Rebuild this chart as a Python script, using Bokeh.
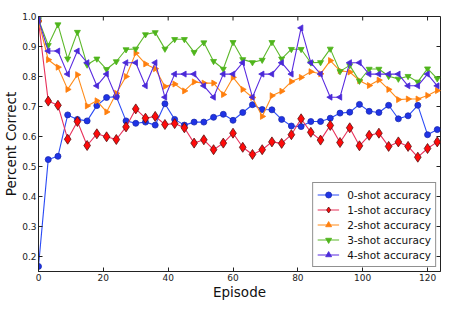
from bokeh.plotting import figure
from bokeh.models import Range1d, FixedTicker, Legend, LegendItem
from bokeh.embed import file_html
from bokeh.resources import INLINE
import math

episodes = [0, 3, 6, 9, 12, 15, 18, 21, 24, 27, 30, 33, 36, 39, 42, 45, 48, 51, 54, 57, 60,
            63, 66, 69, 72, 75, 78, 81, 84, 87, 90, 93, 96, 99, 102, 105, 108, 111, 114, 117, 120, 123]

acc0 = [0.167, 0.523, 0.534, 0.672, 0.657, 0.652, 0.703, 0.730, 0.733, 0.652, 0.644, 0.648, 0.638, 0.709,
        0.657, 0.638, 0.648, 0.648, 0.664, 0.674, 0.654, 0.680, 0.706, 0.690, 0.689, 0.657, 0.635, 0.633,
        0.650, 0.650, 0.661, 0.678, 0.681, 0.707, 0.684, 0.680, 0.704, 0.659, 0.669, 0.704, 0.606, 0.623]
acc1 = [0.985, 0.718, 0.704, 0.591, 0.650, 0.570, 0.609, 0.599, 0.590, 0.632, 0.692, 0.661, 0.667, 0.640,
        0.643, 0.629, 0.578, 0.589, 0.556, 0.578, 0.611, 0.564, 0.540, 0.556, 0.582, 0.577, 0.606, 0.659,
        0.614, 0.588, 0.637, 0.580, 0.629, 0.569, 0.604, 0.611, 0.567, 0.582, 0.567, 0.531, 0.560, 0.582]
acc2 = [0.985, 0.856, 0.831, 0.757, 0.806, 0.702, 0.719, 0.682, 0.744, 0.800, 0.878, 0.842, 0.826, 0.767,
        0.775, 0.752, 0.782, 0.778, 0.778, 0.740, 0.797, 0.757, 0.730, 0.667, 0.736, 0.751, 0.783, 0.797,
        0.816, 0.809, 0.853, 0.819, 0.815, 0.786, 0.770, 0.788, 0.757, 0.723, 0.725, 0.725, 0.737, 0.753]
acc3 = [0.990, 0.904, 0.973, 0.859, 0.948, 0.839, 0.859, 0.824, 0.850, 0.890, 0.892, 0.940, 0.947, 0.892,
        0.924, 0.924, 0.881, 0.913, 0.851, 0.825, 0.914, 0.857, 0.847, 0.855, 0.914, 0.859, 0.891, 0.891,
        0.846, 0.847, 0.892, 0.817, 0.837, 0.785, 0.825, 0.825, 0.801, 0.792, 0.801, 0.782, 0.826, 0.793]
acc4 = [0.990, 0.885, 0.885, 0.808, 0.885, 0.846, 0.769, 0.808, 0.731, 0.846, 0.846, 0.769, 0.846, 0.731,
        0.808, 0.808, 0.808, 0.769, 0.731, 0.808, 0.808, 0.846, 0.731, 0.808, 0.808, 0.846, 0.808, 0.962,
        0.846, 0.808, 0.731, 0.731, 0.846, 0.846, 0.808, 0.808, 0.808, 0.808, 0.769, 0.769, 0.808, 0.769]

labels = ["0-shot accuracy", "1-shot accuracy", "2-shot accuracy", "3-shot accuracy", "4-shot accuracy"]
x_ticks = [0, 20, 40, 60, 80, 100, 120]
y_ticks = [0.2, 0.3, 0.4, 0.5, 0.6, 0.7, 0.8, 0.9, 1.0]
y_tick_labels = ["0.2", "0.3", "0.4", "0.5", "0.6", "0.7", "0.8", "0.9", "1.0"]
x_lim = (0, 124)
y_lim = (0.15, 1.0)

FONT = "DejaVu Sans"
AXC = "#222222"

p = figure(width=455, height=302, output_backend="svg", toolbar_location=None,
           x_range=Range1d(*x_lim), y_range=Range1d(*y_lim),
           min_border_left=38, min_border_right=15, min_border_top=16, min_border_bottom=31)
p.background_fill_color = "white"
p.border_fill_color = "white"
p.outline_line_color = AXC
p.outline_line_width = 1
p.xgrid.visible = False
p.ygrid.visible = False

p.xaxis.axis_label = "Episode"
p.yaxis.axis_label = "Percent Correct"
p.xaxis.ticker = FixedTicker(ticks=x_ticks)
p.yaxis.ticker = FixedTicker(ticks=y_ticks)
p.yaxis.major_label_overrides = {t: s for t, s in zip(y_ticks, y_tick_labels)}

for ax in [p.xaxis[0], p.yaxis[0]]:
    ax.axis_label_text_font = FONT
    ax.axis_label_text_font_size = "13.5px"
    ax.axis_label_text_font_style = "normal"
    ax.axis_label_text_color = "#111111"
    ax.axis_label_standoff = 0
    ax.major_label_text_font = FONT
    ax.major_label_text_font_size = "9px"
    ax.major_label_text_color = AXC
    ax.major_label_standoff = 2
    ax.major_tick_in = 4
    ax.major_tick_out = 0
    ax.minor_tick_in = 0
    ax.minor_tick_out = 0
    ax.axis_line_color = AXC
    ax.major_tick_line_color = AXC

# inward ticks on the top and right edges of the box
p.ray(x=x_ticks, y=[y_lim[1]] * len(x_ticks), length=4, length_units="screen",
      angle=-math.pi / 2, line_color=AXC, line_width=1)
p.ray(x=[x_lim[1]] * len(y_ticks), y=y_ticks, length=4, length_units="screen",
      angle=math.pi, line_color=AXC, line_width=1)

series = [
    (acc0, "#2b4bf5", "circle", 6, "#1f33e6", "#1a2bb0", 0.0),
    (acc1, "#e8305a", "diamond", 10, "#ff0a0a", "#5a1010", 0.0),
    (acc2, "#ff8c1a", "triangle", 6, "#ff7f0e", "#ff7f0e", -math.pi / 2),
    (acc3, "#5cb82a", "inverted_triangle", 6, "#4fb51c", "#4fb51c", 0.0),
    (acc4, "#5a2be0", "triangle", 6, "#4a2ad8", "#4a2ad8", math.pi / 2),
]

items = []
for (vals, lcol, marker, size, fcol, ecol, ang), lab in zip(series, labels):
    r1 = p.line(episodes, vals, line_color=lcol, line_width=1.1)
    r2 = p.scatter(x=episodes, y=vals, marker=marker, size=size, fill_color=fcol,
                   line_color=ecol, line_width=0.8, angle=ang, angle_units="rad")
    items.append(LegendItem(label=lab, renderers=[r1, r2]))

legend = Legend(items=items, location="bottom_right")
legend.label_text_font = FONT
legend.label_text_font_size = "10.5px"
legend.label_text_color = "#111111"
legend.label_height = 12
legend.glyph_height = 15
legend.glyph_width = 22
legend.label_standoff = 8
legend.spacing = 0
legend.padding = 4
legend.margin = 4
legend.border_line_color = AXC
legend.border_line_width = 1
legend.background_fill_color = "white"
legend.background_fill_alpha = 1.0
p.add_layout(legend, "center")

open("out.html", "w").write(file_html(p, INLINE))
